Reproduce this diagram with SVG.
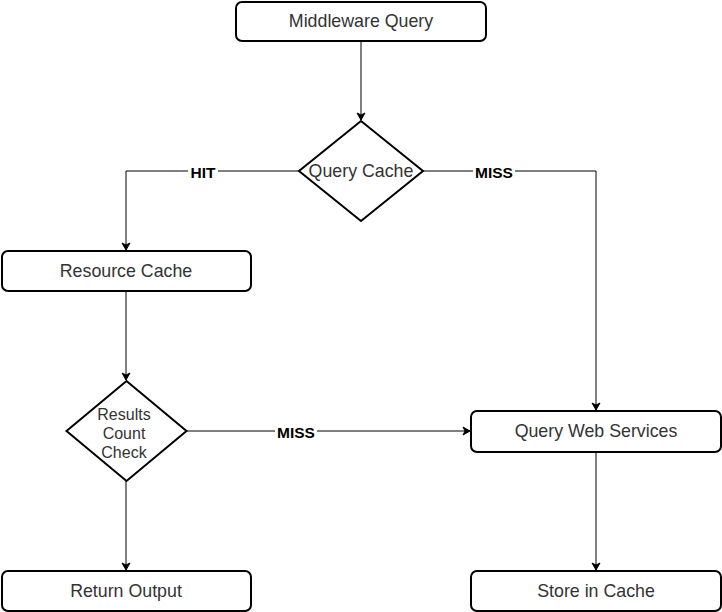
<svg xmlns="http://www.w3.org/2000/svg" width="722" height="612" viewBox="0 0 722 612">
<style>
.n{fill:#fff;stroke:#000;stroke-width:2}
.t{font-family:"Liberation Sans",Arial,sans-serif;font-size:17.8px;fill:#333;text-anchor:middle;dominant-baseline:central}
.s{font-size:16px}
.e{fill:none;stroke:#000;stroke-width:1}
.l{font-family:"Liberation Sans",Arial,sans-serif;font-size:15.5px;font-weight:bold;fill:#000;text-anchor:middle;dominant-baseline:central}
.lb{fill:#fff}
</style>
<defs>
<marker id="a" markerWidth="10" markerHeight="10" refX="8" refY="5" orient="auto" markerUnits="userSpaceOnUse">
<path d="M1,1 L8,5 L1,9 L3,5 Z" fill="#000" stroke="#000" stroke-width="1"/>
</marker>
</defs>
<rect width="722" height="612" fill="#fff"/>
<g id="connectors">
<path class="e" d="M361,41 V120" marker-end="url(#a)"/>
<path class="e" d="M299,171 H126 V250" marker-end="url(#a)"/>
<path class="e" d="M423,171 H596 V410" marker-end="url(#a)"/>
<path class="e" d="M126,291 V380" marker-end="url(#a)"/>
<path class="e" d="M187,431 H470" marker-end="url(#a)"/>
<path class="e" d="M126,481 V570" marker-end="url(#a)"/>
<path class="e" d="M596,452 V570" marker-end="url(#a)"/>
<rect class="lb" x="188" y="163" width="30" height="18"/>
<text class="l" x="203" y="172">HIT</text>
<rect class="lb" x="473" y="163" width="42" height="18"/>
<text class="l" x="494" y="172">MISS</text>
<rect class="lb" x="275" y="423" width="42" height="18"/>
<text class="l" x="296" y="432">MISS</text>
</g>
<g id="middleware-query">
<rect class="n" x="236" y="2" width="250" height="39" rx="6"/>
<text class="t" x="361" y="21">Middleware Query</text>
</g>
<g id="query-cache">
<path class="n" d="M361,121 L423,171 L361,221 L299,171 Z"/>
<text class="t" x="361" y="171">Query Cache</text>
</g>
<g id="resource-cache">
<rect class="n" x="2" y="251" width="249" height="40" rx="6"/>
<text class="t" x="126" y="271">Resource Cache</text>
</g>
<g id="results-count-check">
<path class="n" d="M126.5,381 L186.5,431 L126.5,481 L66.5,431 Z"/>
<text class="t s" x="124" y="414">Results</text>
<text class="t s" x="124" y="433">Count</text>
<text class="t s" x="124" y="452">Check</text>
</g>
<g id="query-web-services">
<rect class="n" x="471" y="411" width="250" height="41" rx="6"/>
<text class="t" x="596" y="431">Query Web Services</text>
</g>
<g id="return-output">
<rect class="n" x="2" y="571" width="249" height="40" rx="6"/>
<text class="t" x="126" y="591">Return Output</text>
</g>
<g id="store-in-cache">
<rect class="n" x="471" y="571" width="250" height="40" rx="6"/>
<text class="t" x="596" y="591">Store in Cache</text>
</g>
</svg>
